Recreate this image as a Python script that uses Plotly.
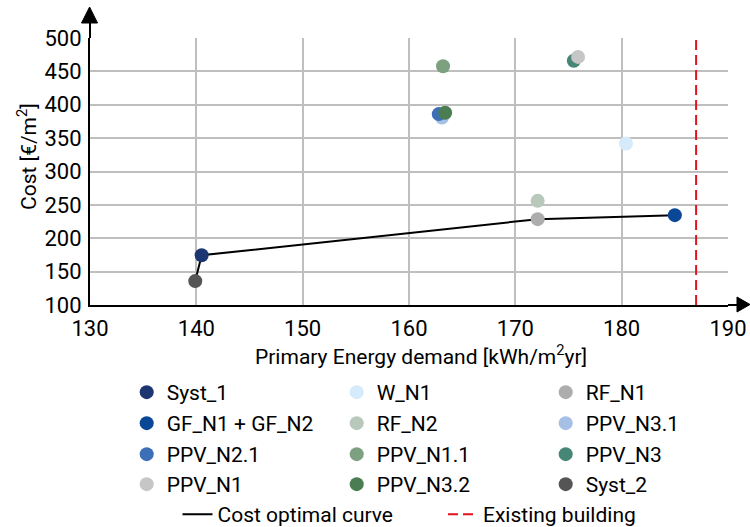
import plotly.graph_objects as go

# ---- data ----
names = ["Syst_1", "W_N1", "RF_N1", "GF_N1 + GF_N2", "RF_N2", "PPV_N3.1",
         "PPV_N2.1", "PPV_N1.1", "PPV_N3", "PPV_N1", "PPV_N3.2", "Syst_2"]
energy = [140.5, 180.4, 172.1, 185.0, 172.1, 163.1, 162.8, 163.2, 175.5, 175.9, 163.4, 139.9]
cost = [174.5, 342.0, 228.6, 234.6, 256.0, 381.0, 386.0, 457.6, 466.0, 471.7, 388.0, 135.8]
colors = ["#1d3570", "#d5eafa", "#adadad", "#0a4797", "#b8c9bc", "#a5bfe5",
          "#3d6fb8", "#7da080", "#478676", "#c6c6c6", "#4a7d52", "#555555"]

curve_x = [139.9, 140.5, 172.1, 185.0]
curve_y = [135.8, 174.5, 228.6, 234.6]

existing_x = [187.0, 187.0]
existing_y = [100, 500]

x_ticks = [130, 140, 150, 160, 170, 180, 190]
y_ticks = [100, 150, 200, 250, 300, 350, 400, 450, 500]

FONT = "Roboto, sans-serif"
LEG_SIZE = 21
TICK_SIZE = 22
TITLE_SIZE = 21

L, R, T, B = 90, 22, 38, 222
pw = 750 - L - R
ph = 527 - T - B


def px_x(p):
    return (p - L) / pw


def px_y(p):
    return (527 - B - p) / ph


# legend placement (pixel centres of legend symbols)
col_px = [146.7, 356.7, 565.7]
row_px = [392, 423, 454, 484]
X_OFF, Y_OFF = 20, 20


def leg(xp, yp):
    return dict(xref="paper", yref="paper", x=px_x(xp - X_OFF), y=px_y(yp - Y_OFF),
                xanchor="left", yanchor="top", orientation="v",
                bgcolor="rgba(0,0,0,0)", borderwidth=0, tracegroupgap=0,
                font=dict(family=FONT, size=LEG_SIZE, color="black"), itemwidth=30)


fig = go.Figure()
legends = {}

fig.add_trace(go.Scatter(x=curve_x, y=curve_y, mode="lines", name="Cost optimal curve",
                         line=dict(color="black", width=2), legend="legend13"))
legends["legend13"] = leg(197.5, 514)
fig.add_trace(go.Scatter(x=existing_x, y=existing_y, mode="lines", name="Existing building",
                         line=dict(color="#e3121f", width=2, dash="10px,5px"), legend="legend14"))
legends["legend14"] = leg(463, 514)

for i, (n, xv, yv, c) in enumerate(zip(names, energy, cost, colors)):
    key = "legend" if i == 0 else f"legend{i + 1}"
    legends[key] = leg(col_px[i % 3], row_px[i // 3])
    fig.add_trace(go.Scatter(x=[xv], y=[yv], mode="markers", name=n,
                             marker=dict(color=c, size=14, line=dict(width=0)),
                             legend=key))

shapes = [
    dict(type="line", xref="paper", yref="paper", x0=1, y0=0, x1=px_x(738), y1=0,
         line=dict(color="black", width=2)),
    dict(type="path", xref="paper", yref="paper",
         path=f"M {px_x(737)},{px_y(297)} L {px_x(750)},{px_y(304.5)} L {px_x(737)},{px_y(312)} Z",
         fillcolor="black", line=dict(color="black", width=1)),
    dict(type="line", xref="paper", yref="paper", x0=0, y0=1, x1=0, y1=px_y(22),
         line=dict(color="black", width=2)),
    dict(type="path", xref="paper", yref="paper",
         path=f"M {px_x(81.5)},{px_y(23)} L {px_x(89.6)},{px_y(7)} L {px_x(97.5)},{px_y(23)} Z",
         fillcolor="black", line=dict(color="black", width=1)),
]

fig.update_layout(
    width=750, height=527,
    margin=dict(l=L, r=R, t=T, b=B, autoexpand=False),
    paper_bgcolor="white", plot_bgcolor="white",
    font=dict(family=FONT, size=21, color="black"),
    showlegend=True,
    xaxis=dict(range=[130, 190], tickvals=x_ticks, showgrid=True, gridcolor="#bfbfbf",
               gridwidth=1.5, zeroline=False, showline=True, linecolor="black", linewidth=2,
               ticks="", ticklabelstandoff=3,
               tickfont=dict(family=FONT, size=TICK_SIZE, color="black")),
    yaxis=dict(range=[100, 500], tickvals=y_ticks, showgrid=True, gridcolor="#bfbfbf",
               gridwidth=1.5, zeroline=False, showline=True, linecolor="black", linewidth=2,
               ticks="", ticklabelstandoff=2,
               tickfont=dict(family=FONT, size=TICK_SIZE, color="black")),
    shapes=shapes,
    annotations=[
        dict(text="Primary Energy demand [kWh/m<sup>2</sup>yr]", xref="paper", yref="paper",
             x=px_x(421), y=px_y(355), xanchor="center", yanchor="middle",
             showarrow=False, font=dict(family=FONT, size=TITLE_SIZE, color="black")),
        dict(text="Cost [€/m<sup>2</sup>]", xref="paper", yref="paper",
             x=px_x(27), y=px_y(157), xanchor="center", yanchor="middle", textangle=-90,
             showarrow=False, font=dict(family=FONT, size=TITLE_SIZE, color="black")),
    ],
    **legends,
)

fig.write_html("out.html", config={"displayModeBar": False},
               post_script="document.body.style.margin='0';")
